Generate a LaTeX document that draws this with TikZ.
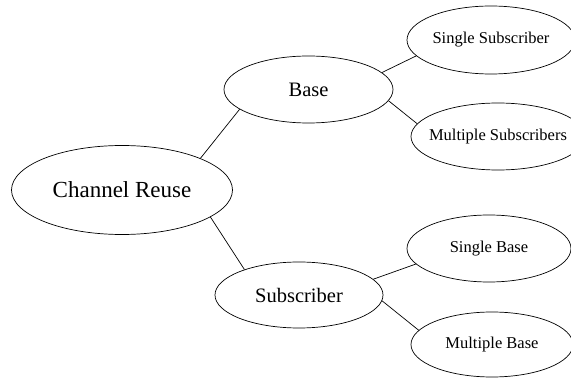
\documentclass[tikz,border=0pt]{standalone}
\usepackage{fontspec}
\setmainfont{Liberation Serif}
\usepackage{tikz}
\usetikzlibrary{shapes.geometric}

\begin{document}
\begin{tikzpicture}[x=1pt, y=1pt, line width=0.7pt,
    root/.style={ellipse, draw, inner sep=-30pt, font=\fontsize{23}{25}\selectfont},
    mid/.style={ellipse, draw, inner sep=-30pt, font=\fontsize{20.5}{23}\selectfont},
    leaf/.style={ellipse, draw, inner sep=-30pt, font=\fontsize{16.5}{19}\selectfont}]
    % frame of the picture, the right-hand leaves are cut off
    \useasboundingbox (0,0) rectangle (571,378);
    \clip (0,0) rectangle (571,378);

    % Channel reuse tree
    \node (reuse) at (122,188) [root, minimum width=221pt, minimum height=89pt] {Channel Reuse};

    \node (base) at (308.5,288.5) [mid, minimum width=169pt, minimum height=67pt] {Base};
    \node (subscriber) at (299,83) [mid, minimum width=168pt, minimum height=66pt] {Subscriber};

    \node (singlesub) at (491,338) [leaf, minimum width=168pt, minimum height=68pt] {Single Subscriber};
    \node (multisub) at (498,241.5) [leaf, minimum width=174pt, minimum height=67pt] {Multiple Subscribers};
    \node (singlebase) at (489,129.5) [leaf, minimum width=164pt, minimum height=67pt] {Single Base};
    \node (multibase) at (492,33.5) [leaf, minimum width=162pt, minimum height=65pt] {Multiple Base};

    \draw (reuse.22) -- (base.196);
    \draw (reuse.-17) -- (subscriber.155);
    \draw (base.13) -- (singlesub.192);
    \draw (base.-8) -- (multisub.171);
    \draw (subscriber.12) -- (singlebase.192);
    \draw (subscriber.-4) -- (multibase.169);
\end{tikzpicture}
\end{document}
